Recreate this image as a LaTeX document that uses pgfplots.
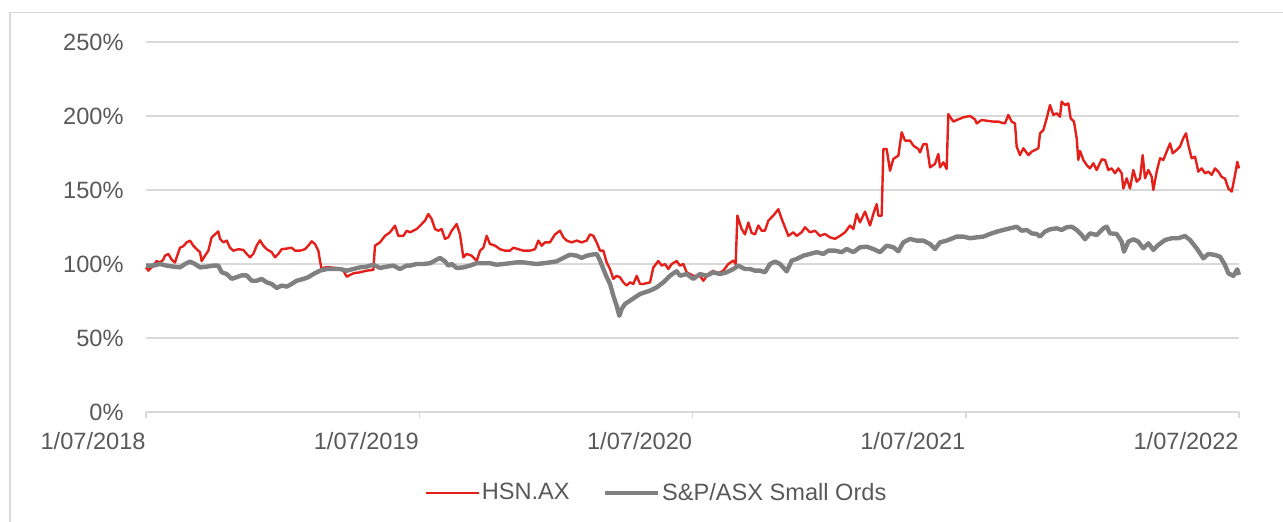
\documentclass[border=0pt]{standalone}
\usepackage{fontspec}
\setmainfont{Liberation Sans}
\usepackage{pgfplots}
\usepackage{pgfplotstable}
\pgfplotsset{compat=1.18}
\definecolor{hsnred}{RGB}{228,32,26}
\definecolor{idxgray}{RGB}{128,128,128}
\definecolor{gridgray}{RGB}{217,217,217}
\definecolor{labgray}{RGB}{89,89,89}
% u = position along the time axis (3279 units = 4 years), v = value in %
\pgfplotstableread{
u v
0 97.7
7 95.5
22 99
32 102
42 101
52 103
57 105.6
67 106.8
77 103
87 101
92 104.5
102 111
112 112
122 114.6
132 115.8
142 112.4
152 110
162 108
167 102
177 105.6
187 109
197 118
207 120
217 122
222 117
232 114.6
242 115.8
252 111
262 109
277 110
292 109.5
302 106.8
312 104.5
322 106.8
332 112.4
342 116
352 112.4
362 110
377 108
387 104.5
397 106.8
407 110
422 110.4
437 111
447 109
462 109
477 110
487 112.4
497 115.3
507 113.5
517 109
522 102
527 96.6
537 97.7
552 97.7
572 97.3
592 95.5
602 91.4
622 93.7
642 94.4
662 95.5
682 96
687 112.4
702 114.6
717 119
732 121.4
747 125.9
757 119
772 119
782 122.5
792 121.4
812 123.6
827 127
837 129.3
847 133.8
857 130.4
867 123.6
877 122.5
887 123.6
897 117
907 118
917 122.5
932 127
942 120
952 104.5
962 106.8
977 105.6
992 102
1002 109
1012 111
1022 119
1032 113.5
1047 112.4
1062 110
1077 109
1092 109
1102 111
1117 110
1132 109
1152 109
1167 110
1177 115.8
1187 112.4
1197 114.6
1212 114.6
1227 120
1242 122.5
1252 118
1262 115.8
1277 114.6
1292 115.8
1307 114.6
1322 115.8
1332 120
1342 119
1352 114.6
1362 109
1372 109
1382 101
1392 96.6
1402 89.9
1412 92
1422 91
1432 87.6
1442 85.4
1452 87.6
1462 86.5
1472 92
1482 86.5
1492 86.5
1512 87.6
1522 97.7
1537 102
1547 98.9
1557 100
1567 96.6
1577 100
1592 102
1602 98.9
1612 100
1622 94.4
1642 92
1662 92
1672 88.7
1687 93.2
1702 95.5
1712 93.2
1732 95.5
1747 100
1762 102.3
1769 100
1774 132.7
1787 123.6
1797 120
1807 128
1817 121
1827 120
1837 126
1847 122.5
1857 122.5
1867 129.3
1882 132.7
1897 137
1907 130.4
1917 124.8
1927 119
1942 121.4
1952 119
1967 121.4
1977 124.8
1992 121.4
2007 122.5
2022 119
2037 120.3
2052 118
2067 117
2082 119
2097 121.4
2112 126
2122 123.6
2132 133.8
2142 128.1
2157 135.4
2172 126
2182 133.8
2192 140.5
2197 132.7
2207 132.7
2212 177.7
2222 177.7
2232 163
2242 171
2257 173.2
2267 189
2277 183.4
2292 183.4
2302 180
2317 177.7
2322 175.4
2332 181
2342 181
2352 165.3
2367 167.6
2377 174.3
2382 165.3
2392 168.7
2402 164.2
2407 201.3
2412 199.5
2422 196.2
2432 197.3
2452 199.1
2472 200
2487 197.7
2492 195
2507 197.3
2522 196.8
2542 196.2
2557 196.2
2567 195.5
2577 195
2587 200.7
2597 196.2
2607 195
2612 179.3
2622 173.6
2632 178.2
2647 173.6
2657 175.9
2667 177
2677 178.2
2682 188.3
2692 190.5
2702 198.4
2712 207.4
2722 200.7
2732 201.8
2742 199.5
2747 209.7
2757 207.4
2767 208.5
2774 198.4
2784 196.2
2792 185
2797 170.3
2802 176.4
2812 170.3
2822 166.9
2832 164.6
2842 168
2852 163.5
2867 170.7
2877 170.3
2887 163.5
2897 164.6
2907 161.3
2917 164.6
2927 161.3
2932 151
2942 157.9
2952 151
2962 163.5
2972 155.6
2982 157.9
2990 173.6
2997 157.9
3007 163.5
3017 159
3022 150
3032 162.4
3042 171.4
3052 170.3
3062 176
3072 181.5
3080 174.8
3092 177
3102 179.3
3112 185
3120 188.3
3127 180.4
3137 171.4
3147 172.5
3157 162.4
3167 164.6
3177 161.3
3187 162.4
3197 160.2
3207 164.6
3217 162.4
3227 158.8
3237 157.7
3247 151
3257 148.9
3267 160
3274 169
3279 164.6
}\hsntable
\pgfplotstableread{
u v
0 98.9
22 98.9
42 100
62 98.9
82 98.2
102 97.7
117 100
132 101.6
147 100
162 97.7
182 98.2
202 98.9
217 98.9
227 94.4
242 93.2
257 90
272 91.1
287 92.3
302 92.3
317 88.7
332 88.7
347 89.9
362 87.6
377 86.5
392 83.8
407 85.4
422 84.7
437 86.5
452 88.7
472 89.9
487 91.1
502 93.2
522 95.5
542 96.6
562 96.6
582 96.6
602 95.5
622 96.6
642 97.7
662 98.2
682 99.5
702 97.3
722 98.2
742 98.9
762 96.6
782 98.9
792 98.9
812 100
832 100
852 100.5
867 102.3
882 104.1
897 101.8
907 98.9
917 100
932 97.3
952 97.7
972 98.9
992 100.5
1012 100.5
1032 100.5
1052 99.5
1072 100
1092 100.5
1112 101.1
1132 101.1
1152 100.5
1172 100
1192 100.5
1212 101.1
1232 101.8
1252 104.1
1272 106.3
1292 105.6
1307 104.1
1322 105.6
1337 106.3
1352 106.8
1362 102.3
1372 96.6
1382 91.1
1392 86.5
1402 78.6
1412 71.8
1420 65
1427 69.6
1437 73
1452 75.2
1467 77.5
1482 79.7
1497 80.9
1512 82
1532 84.2
1552 87.6
1572 92.1
1592 95.1
1602 92.1
1622 93.2
1642 89.9
1662 93.2
1682 92.1
1702 94.4
1722 93.2
1742 94.4
1762 96.6
1777 98.9
1797 96.6
1812 96.6
1827 95.5
1842 95.5
1857 94.4
1872 100
1887 101.6
1902 100
1922 95
1937 102.3
1952 103.4
1972 105.6
1992 106.8
2012 108
2032 106.8
2047 109
2067 109
2087 108
2102 110.1
2122 108
2142 111.3
2162 111.7
2182 110.1
2202 108
2222 112.4
2242 111.3
2257 108.6
2272 114.6
2292 116.9
2312 115.8
2332 115.8
2352 113.5
2367 110.1
2382 114.6
2402 115.8
2412 116.7
2432 118.5
2452 118.5
2472 117.4
2492 118
2512 118.5
2532 120.3
2552 121.8
2572 123
2592 124.1
2612 125.2
2627 122.5
2642 123
2657 120.7
2672 120.3
2682 118.5
2697 121.9
2712 123.4
2732 124.1
2747 123
2762 124.8
2777 125.2
2792 123
2807 119.6
2817 116.7
2832 120.7
2852 119.6
2872 124.1
2882 125.2
2892 120.7
2912 120.3
2927 115.1
2934 108.3
2947 115.1
2962 116.7
2977 115.1
2992 110.6
3007 114
3022 109.5
3037 112.9
3057 116.2
3077 117.4
3097 117.4
3117 118.9
3132 116.2
3152 110.6
3172 103.8
3187 106.8
3207 106.1
3222 105
3237 99.3
3247 93.7
3262 91.9
3274 96.4
3279 92.6
}\idxtable
\begin{document}
\begin{tikzpicture}
\draw[gridgray, line width=0.75pt] (5pt,-5pt) -- (5pt,254.7pt) -- (650pt,254.7pt);
\begin{axis}[
  at={(73pt,55pt)}, anchor=south west,
  scale only axis, width=546.5pt, height=185pt,
  xmin=0, xmax=4, ymin=0, ymax=250,
  axis x line*=bottom, axis y line*=left,
  x axis line style={gridgray, line width=0.75pt, -},
  y axis line style={draw=none},
  xtick={0,1,2,3,4},
  xticklabels={1/07/2018,1/07/2019,1/07/2020,1/07/2021,1/07/2022},
  ytick={0,50,100,150,200,250},
  yticklabels={0\%,50\%,100\%,150\%,200\%,250\%},
  ymajorgrids, grid style={gridgray, line width=0.75pt},
  tick align=outside, major tick length=3pt,
  xtick style={gridgray, line width=0.75pt},
  ytick style={draw=none},
  ticklabel style={font=\fontsize{11.8pt}{13pt}\selectfont, text=labgray},
  /pgf/number format/assume math mode=true,
  xticklabel style={anchor=base east, inner sep=0pt, yshift=-16pt},
  yticklabel style={anchor=east, inner sep=0pt, xshift=-8pt},
  clip=false,
  legend style={at={(0.467,-0.219)}, anchor=center, draw=none, fill=none,
    font=\fontsize{11.8pt}{13pt}\selectfont, text=labgray,
    inner sep=0pt, nodes={inner sep=1pt},
    /tikz/every even column/.append style={column sep=15.5pt}},
  legend columns=2,
  legend image code/.code={\draw[#1] (0pt,0pt) -- (26.5pt,0pt);},
]
\addplot[hsnred, line width=1.2pt, line join=round] table[x expr={\thisrow{u}/819.75}, y=v] {\hsntable};
\addlegendentry{HSN.AX}
\addplot[idxgray, line width=2.2pt, line join=round] table[x expr={\thisrow{u}/819.75}, y=v] {\idxtable};
\addlegendentry{S\&P/ASX Small Ords}
\end{axis}
\pgfresetboundingbox
\path[use as bounding box] (0,0) rectangle (641.5pt,261pt);
\end{tikzpicture}
\end{document}
